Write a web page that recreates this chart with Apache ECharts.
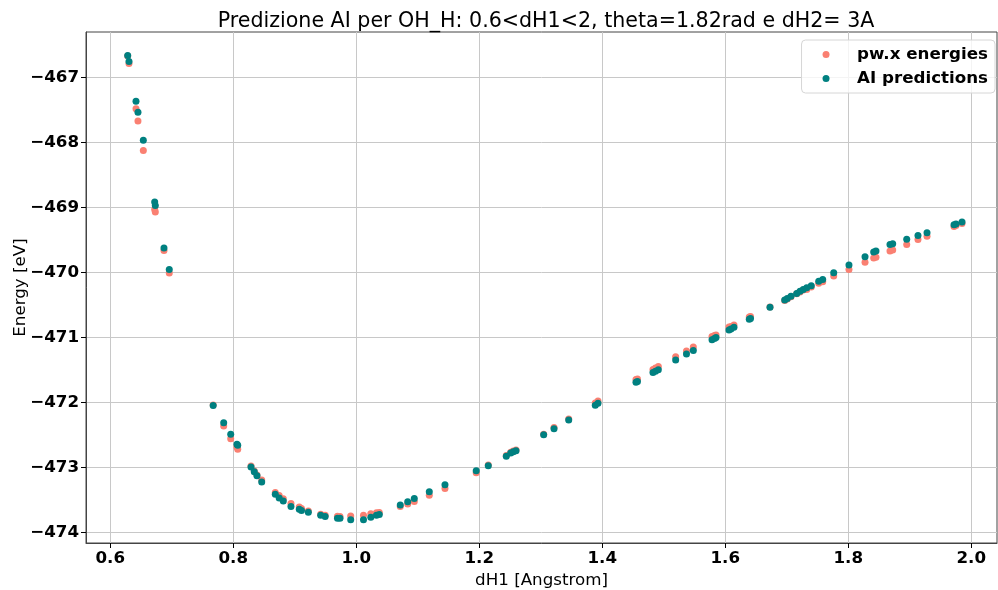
<!DOCTYPE html>
<html>
<head>
<meta charset="utf-8">
<script src="https://cdn.jsdelivr.net/npm/echarts@6/dist/echarts.min.js"></script>
<style>
  html, body { margin: 0; padding: 0; background: #fff; }
  #main { width: 998px; height: 590px; }
</style>
</head>
<body>
<div id="main"></div>
<script>
// dH1 values (Angstrom)
const dH1 = [0.6283, 0.6304, 0.6418, 0.6450, 0.6537, 0.6722, 0.6732, 0.6873, 0.6959,
  0.7673, 0.7844, 0.7958, 0.8060, 0.8072, 0.8288, 0.8341, 0.8385, 0.8462,
  0.8683, 0.8746, 0.8813, 0.8938, 0.9073, 0.9109, 0.9220, 0.9421, 0.9494,
  0.9694, 0.9735, 0.9909, 1.0117, 1.0236, 1.0328, 1.0374, 1.0715, 1.0836,
  1.0943, 1.1187, 1.1442, 1.1950, 1.2146, 1.2439, 1.2511, 1.2553, 1.2597,
  1.3047, 1.3215, 1.3454, 1.3886, 1.3930, 1.4548, 1.4572, 1.4824, 1.4865,
  1.4911, 1.5193, 1.5369, 1.5480, 1.5784, 1.5824, 1.5849, 1.6060, 1.6093,
  1.6141, 1.6390, 1.6410, 1.6727, 1.6966, 1.7008, 1.7068, 1.7161, 1.7215,
  1.7268, 1.7324, 1.7398, 1.7519, 1.7584, 1.7763, 1.8011, 1.8272, 1.8413,
  1.8450, 1.8678, 1.8722, 1.8950, 1.9133, 1.9280, 1.9719, 1.9751, 1.9849];

// energie pw.x (eV)
const pwEnergies = [-466.67, -466.785, -467.483, -467.668, -468.123, -469.031, -469.072, -469.662, -470.011,
  -472.04, -472.365, -472.560, -472.688, -472.723, -472.980, -473.057, -473.118, -473.195,
  -473.388, -473.434, -473.485, -473.557, -473.611, -473.634, -473.672, -473.723, -473.738,
  -473.754, -473.757, -473.749, -473.737, -473.715, -473.698, -473.695, -473.603, -473.565,
  -473.526, -473.431, -473.326, -473.083, -472.965, -472.82, -472.77, -472.75, -472.735,
  -472.49, -472.388, -472.257, -472.011, -471.980, -471.649, -471.642, -471.495, -471.472,
  -471.449, -471.300, -471.208, -471.149, -470.988, -470.972, -470.965, -470.842, -470.834,
  -470.808, -470.685, -470.680, -470.534, -470.434, -470.408, -470.375, -470.33, -470.30,
  -470.27, -470.265, -470.226, -470.169, -470.145, -470.057, -469.954, -469.842, -469.780,
  -469.765, -469.672, -469.657, -469.569, -469.492, -469.442, -469.292, -469.28, -469.246];

// predizioni AI (eV)
const aiPredictions = [-466.66, -466.754, -467.365, -467.534, -467.965, -468.918, -468.969, -469.626, -469.954,
  -472.05, -472.314, -472.492, -472.646, -472.662, -472.995, -473.069, -473.129, -473.226,
  -473.415, -473.472, -473.518, -473.603, -473.646, -473.665, -473.692, -473.737, -473.757,
  -473.783, -473.785, -473.806, -473.806, -473.769, -473.738, -473.726, -473.580, -473.529,
  -473.480, -473.375, -473.268, -473.054, -472.975, -472.831, -472.780, -472.760, -472.745,
  -472.498, -472.406, -472.272, -472.045, -472.015, -471.692, -471.680, -471.542, -471.522,
  -471.500, -471.349, -471.257, -471.203, -471.038, -471.018, -471.003, -470.888, -470.872,
  -470.846, -470.722, -470.711, -470.538, -470.426, -470.400, -470.369, -470.323, -470.292,
  -470.262, -470.237, -470.206, -470.138, -470.108, -470.006, -469.888, -469.760, -469.688,
  -469.672, -469.569, -469.560, -469.488, -469.431, -469.391, -469.268, -469.257, -469.226];

const xTicks = [0.6, 0.8, 1.0, 1.2, 1.4, 1.6, 1.8, 2.0];
const yTicks = [-474, -473, -472, -471, -470, -469, -468, -467];

var myChart = echarts.init(document.getElementById('main'));

const pwData = dH1.map((x, i) => [x, pwEnergies[i]]);
const aiData = dH1.map((x, i) => [x, aiPredictions[i]]);

const fontFam = 'DejaVu Sans';

var option = {
  animation: false,
  backgroundColor: '#fff',
  title: {
    text: 'Predizione AI per OH_H: 0.6<dH1<2, theta=1.82rad e dH2= 3A',
    left: 541,
    textAlign: 'center',
    top: 6,
    textStyle: { fontFamily: fontFam, fontSize: 20.6, fontWeight: 'normal', color: '#000' }
  },
  legend: {
    right: 3,
    top: 40,
    orient: 'vertical',
    icon: 'circle',
    itemWidth: 20,
    itemHeight: 7,
    itemGap: 5,
    padding: [5, 7, 5, 21],
    backgroundColor: 'rgba(255,255,255,0.8)',
    borderColor: '#d6d6d6',
    borderWidth: 1,
    borderRadius: 4,
    textStyle: { fontFamily: fontFam, fontSize: 16.7, fontWeight: 'bold', color: '#000', padding: [0, 0, 0, 16], lineHeight: 19 },
    data: ['pw.x energies', 'AI predictions']
  },
  grid: {
    left: 86, top: 32, width: 911, height: 511,
    outerBoundsMode: 'none',
    containLabel: false,
    show: true, borderColor: '#444', borderWidth: 1
  },
  xAxis: {
    type: 'value',
    min: 0.5605,
    max: 2.0418,
    name: 'dH1 [Angstrom]',
    nameLocation: 'middle',
    nameGap: 26,
    nameTextStyle: { fontFamily: fontFam, fontSize: 16.7, color: '#000' },
    axisLine: { show: true, lineStyle: { color: '#444' } },
    axisTick: { show: true, length: 5, inside: false, customValues: xTicks, lineStyle: { color: '#000' } },
    axisLabel: {
      customValues: xTicks, margin: 7,
      fontFamily: fontFam, fontSize: 16.7, fontWeight: 'bold', color: '#000',
      formatter: v => v.toFixed(1)
    },
    splitLine: { show: true, lineStyle: { color: '#c8c8c8', width: 1 } }
  },
  yAxis: {
    type: 'value',
    min: -474.165,
    max: -466.30,
    name: 'Energy [eV]',
    nameLocation: 'middle',
    nameGap: 57,
    nameMoveOverlap: false,
    nameTextStyle: { fontFamily: fontFam, fontSize: 16.7, color: '#000' },
    axisLine: { show: true, lineStyle: { color: '#444' } },
    axisTick: { show: true, length: 5, inside: false, customValues: yTicks, lineStyle: { color: '#000' } },
    axisLabel: {
      customValues: yTicks, margin: 7,
      fontFamily: fontFam, fontSize: 16.7, fontWeight: 'bold', color: '#000',
      formatter: v => String(v).replace('-', '\u2212')
    },
    splitLine: { show: true, lineStyle: { color: '#c8c8c8', width: 1 } }
  },
  series: [
    {
      name: 'pw.x energies',
      type: 'scatter',
      symbolSize: 7,
      itemStyle: { color: '#FA8072', opacity: 1 },
      data: pwData
    },
    {
      name: 'AI predictions',
      type: 'scatter',
      symbolSize: 7,
      itemStyle: { color: '#008080', opacity: 1 },
      data: aiData
    }
  ]
};

myChart.setOption(option);
</script>
</body>
</html>
